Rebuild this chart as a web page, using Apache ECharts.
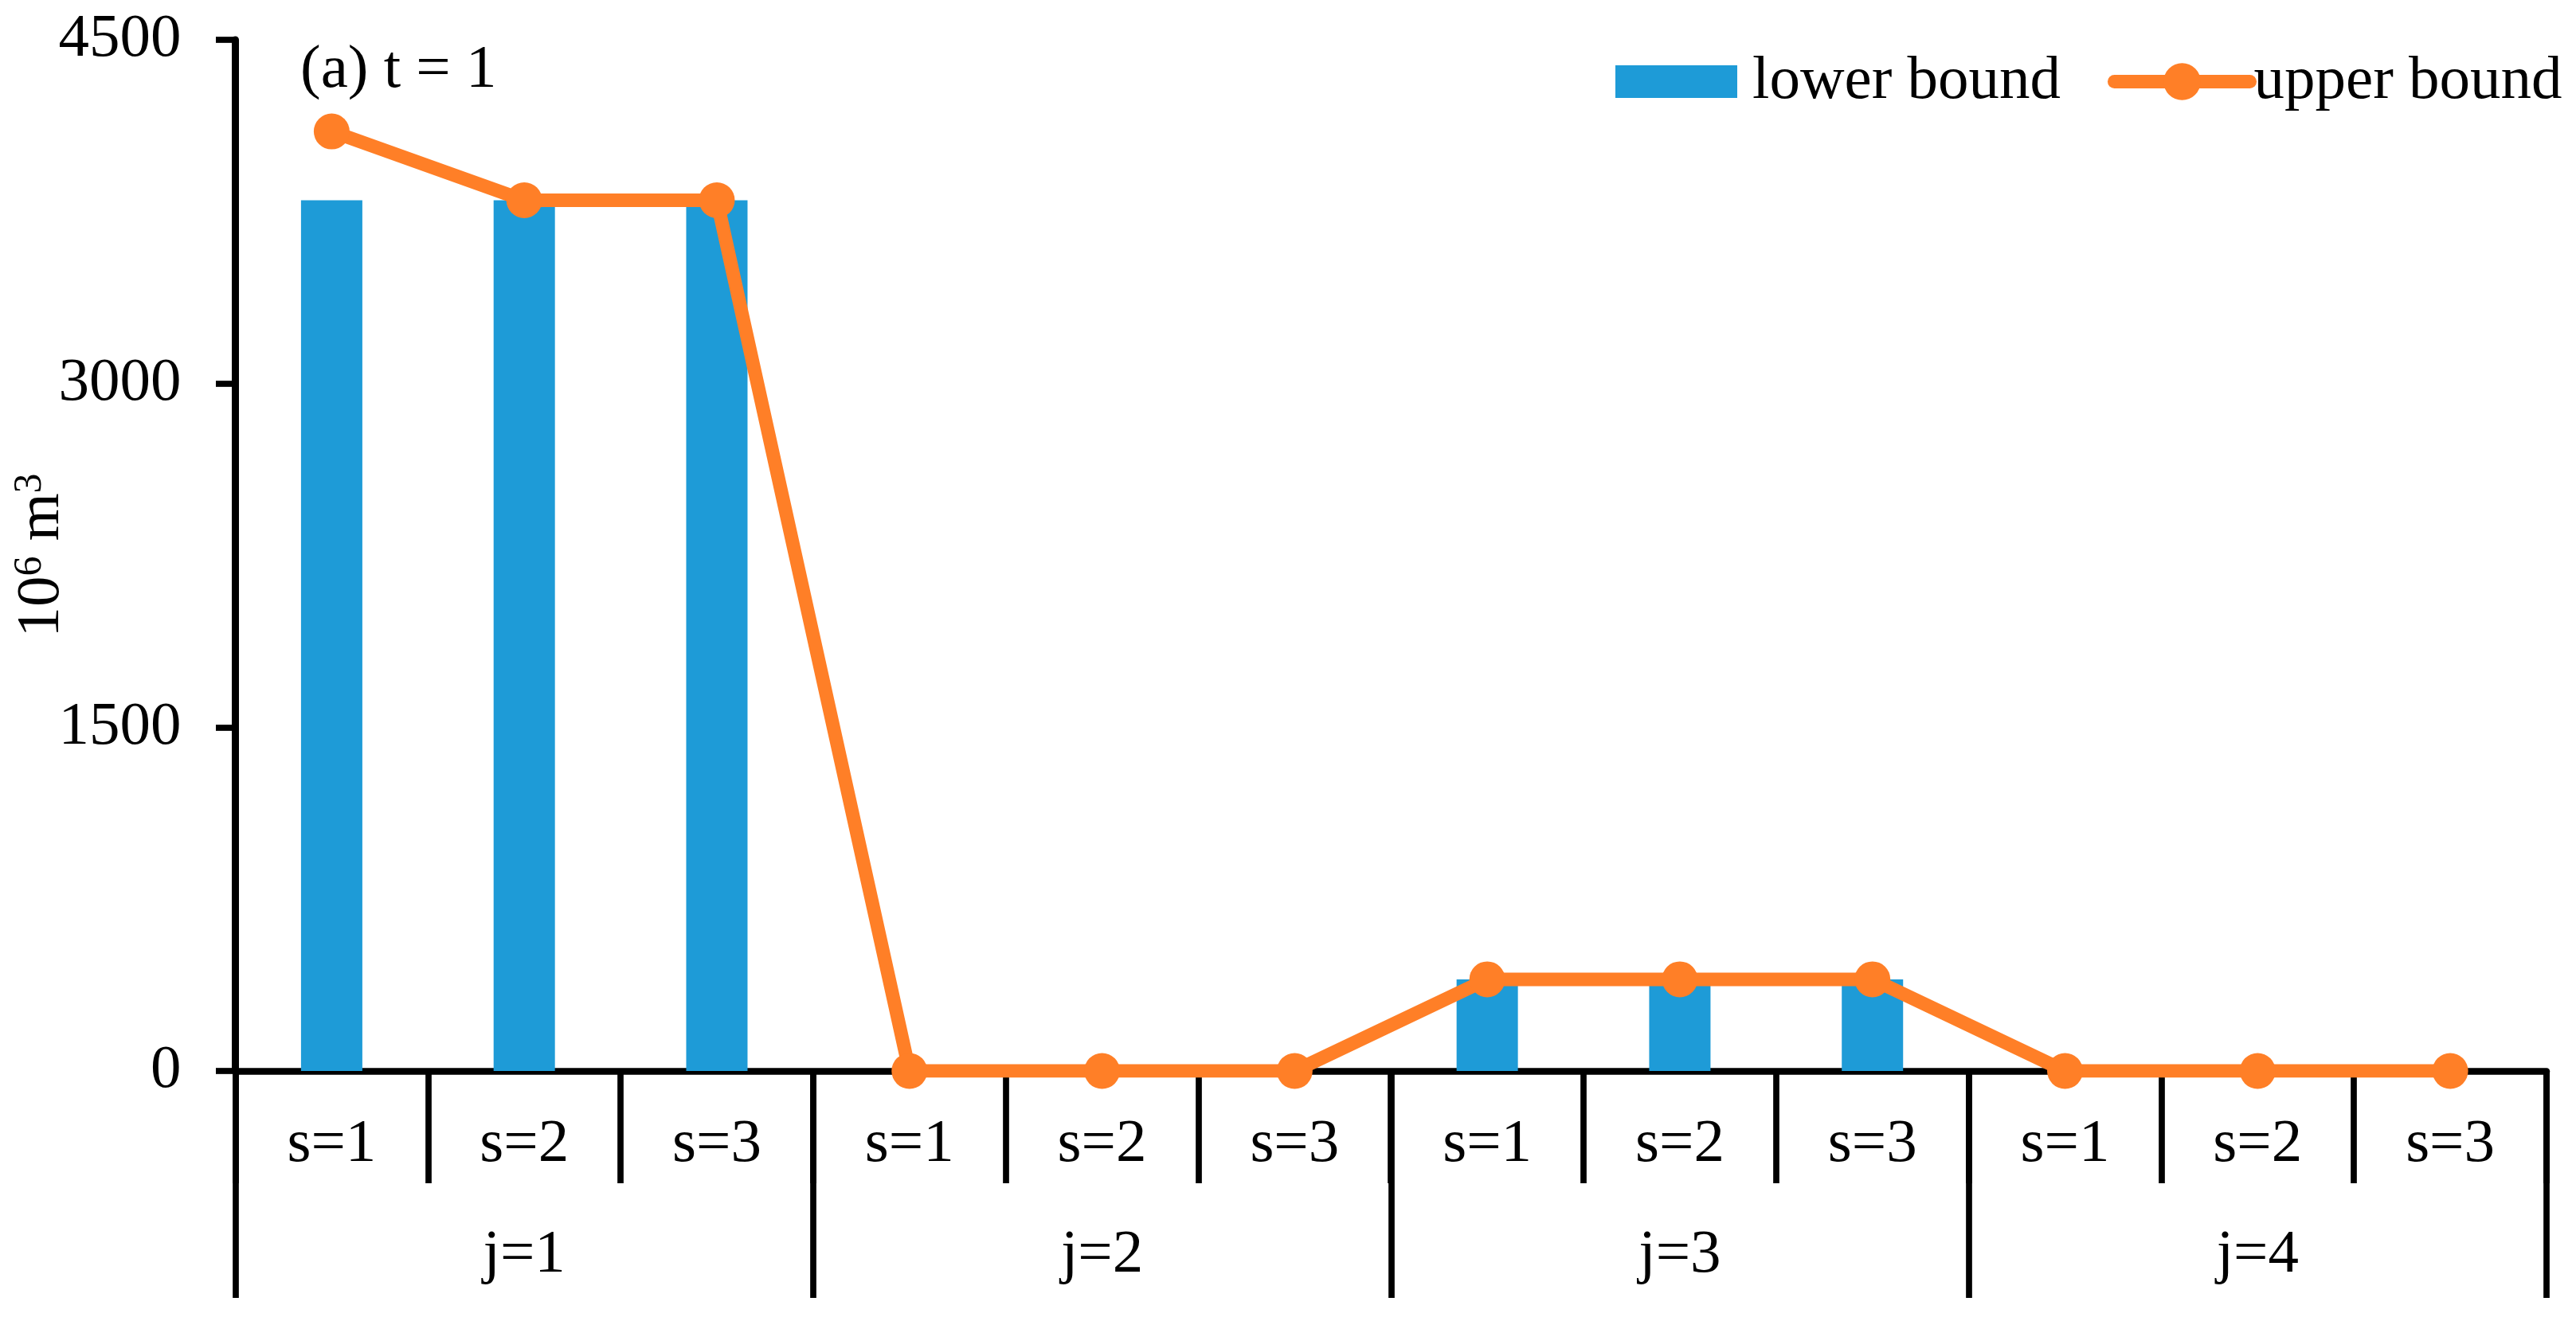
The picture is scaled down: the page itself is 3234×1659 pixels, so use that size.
<!DOCTYPE html>
<html>
<head>
<meta charset="utf-8">
<script src="https://cdn.jsdelivr.net/npm/echarts@6/dist/echarts.min.js"></script>
<style>
html,body{margin:0;padding:0;background:#fff;}
#chart{width:3234px;height:1659px;}
</style>
</head>
<body>
<div id="chart"></div>
<script>
// ---- data ----
const sLabels = ['s=1','s=2','s=3','s=1','s=2','s=3','s=1','s=2','s=3','s=1','s=2','s=3'];
const jLabels = ['j=1','j=2','j=3','j=4'];
const lowerBound = [3800,3800,3800,0,0,0,400,400,400,0,0,0];
const upperBound = [4100,3800,3800,0,0,0,400,400,400,0,0,0];
const yMin = 0, yMax = 4500, yInterval = 1500;
const titleText = '(a) t = 1';
const seriesNames = ['lower bound','upper bound'];

// ---- style ----
const FONT = 'Liberation Serif';
const FS = 77;
const BLUE = '#1E9BD7';
const ORANGE = '#FF7F27';

const chart = echarts.init(document.getElementById('chart'), null, {renderer:'canvas'});
chart.setOption({
  animation: false,
  backgroundColor: '#ffffff',
  textStyle: {fontFamily: FONT, color: '#000'},
  title: {
    text: titleText,
    left: 377, top: 50, padding: 0,
    textStyle: {fontFamily: FONT, fontSize: FS, fontWeight: 'normal', color: '#000'}
  },
  legend: [
    {
      data: [{name: seriesNames[0], icon: 'rect'}],
      left: 2028, top: 64, padding: 0,
      itemWidth: 153, itemHeight: 41,
      itemStyle: {borderRadius: 0},
      textStyle: {fontFamily: FONT, fontSize: FS, color: '#000', padding: [0,0,0,14]}
    },
    {
      data: [seriesNames[1]],
      left: 2646, top: 64, padding: 0,
      itemWidth: 170, itemHeight: 58,
      lineStyle: {width: 17, cap: 'round'},
      textStyle: {fontFamily: FONT, fontSize: FS, color: '#000', padding: [0,0,0,0]}
    }
  ],
  grid: {left: 295.5, right: 37, top: 50, bottom: 314, containLabel: false, outerBoundsMode: 'none'},
  xAxis: [
    {
      type: 'category',
      data: sLabels,
      position: 'bottom',
      boundaryGap: true,
      axisLine: {show: true, lineStyle: {color: '#000', width: 8.5}},
      axisTick: {show: true, interval: 0, alignWithLabel: false, length: 141, lineStyle: {color: '#000', width: 7.7}},
      axisLabel: {interval: 0, margin: 93, verticalAlign: 'middle', fontFamily: FONT, fontSize: FS, color: '#000'},
      splitLine: {show: false}
    },
    {
      type: 'category',
      data: jLabels,
      position: 'bottom',
      boundaryGap: true,
      axisLine: {show: false},
      axisTick: {show: true, interval: 0, alignWithLabel: false, length: 285, lineStyle: {color: '#000', width: 7.7}},
      axisLabel: {interval: 0, margin: 232, verticalAlign: 'middle', fontFamily: FONT, fontSize: FS, color: '#000'},
      splitLine: {show: false}
    }
  ],
  yAxis: {
    type: 'value',
    min: yMin, max: yMax, interval: yInterval,
    name: '{b|10}{s|6}{b| m}{s|3}',
    nameLocation: 'middle',
    nameRotate: 90,
    nameGap: 203,
    nameMoveOverlap: false,
    nameTextStyle: {
      fontFamily: FONT, color: '#000',
      rich: {
        b: {fontFamily: FONT, fontSize: FS, color: '#000'},
        s: {fontFamily: FONT, fontSize: 50, color: '#000', padding: [0,0,30,0]}
      }
    },
    axisLine: {show: true, lineStyle: {color: '#000', width: 9}},
    axisTick: {show: true, length: 24.5, lineStyle: {color: '#000', width: 7.7}},
    axisLabel: {margin: 68, fontFamily: FONT, fontSize: FS, color: '#000', formatter: function (v) { return String(v); }},
    splitLine: {show: false}
  },
  series: [
    {
      name: seriesNames[0],
      type: 'bar',
      xAxisIndex: 0,
      data: lowerBound,
      barWidth: 77,
      itemStyle: {color: BLUE}
    },
    {
      name: seriesNames[1],
      type: 'line',
      xAxisIndex: 0,
      data: upperBound,
      symbol: 'circle',
      symbolSize: 45,
      lineStyle: {color: ORANGE, width: 17},
      itemStyle: {color: ORANGE}
    }
  ]
});
</script>
</body>
</html>
